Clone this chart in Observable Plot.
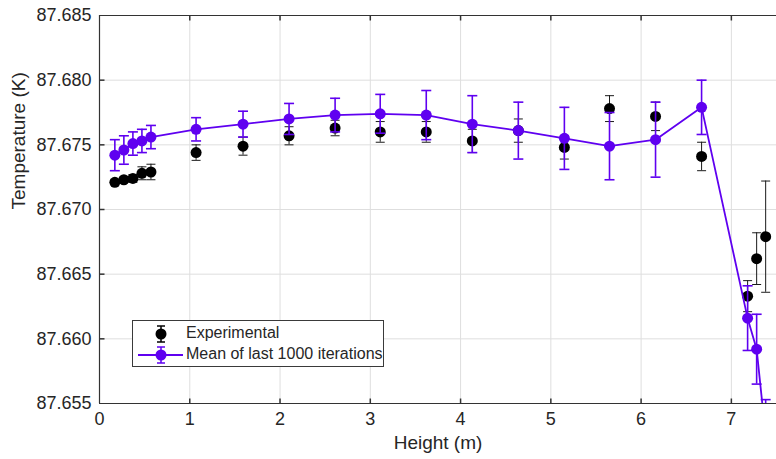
<!DOCTYPE html>
<html><head><meta charset="utf-8">
<script src="https://cdn.jsdelivr.net/npm/d3@7"></script>
<script src="https://cdn.jsdelivr.net/npm/@observablehq/plot@0.6"></script>
<style>
body{margin:0;background:#fff;}
#wrap{position:relative;width:776px;height:459px;font-family:"Liberation Sans",Arial,sans-serif;overflow:hidden;}
#legend{position:absolute;left:132px;top:320px;width:250px;height:45px;border:1px solid #3a3a3a;background:#fff;font-size:16px;color:#262626;}
#legend .row{position:absolute;left:0;height:20px;line-height:20px;}
#legend svg{position:absolute;left:0;top:0;}
#legend span{position:absolute;left:53px;white-space:nowrap;}
</style></head><body>
<div id="wrap"></div>
<script>
// ---- data ----
const heights = [0.17,0.27,0.37,0.47,0.57,1.07,1.59,2.10,2.61,3.11,3.62,4.13,4.64,5.15,5.65,6.16,6.67,7.18,7.28,7.38];
const expTemp = [87.6721,87.6723,87.6724,87.6728,87.6729,87.6744,87.6749,87.6757,87.6763,87.6760,87.6760,87.6753,87.6761,87.6748,87.6778,87.6772,87.6741,87.6633,87.6662,87.6679];
const expErr  = [0.0002,0.0002,0.0003,0.0005,0.0006,0.0006,0.0007,0.0007,0.0006,0.0008,0.0008,0.0009,0.0009,0.0009,0.0010,0.0011,0.0011,0.0012,0.0020,0.0043];
const simTemp = [87.6742,87.6746,87.6751,87.6753,87.6756,87.6762,87.6766,87.6770,87.6773,87.6774,87.6773,87.6766,87.6761,87.6755,87.6749,87.6754,87.6779,87.6616,87.6592,87.6525];
const simErr  = [0.0012,0.0011,0.0009,0.0009,0.0009,0.0009,0.0010,0.0012,0.0013,0.0015,0.0019,0.0022,0.0022,0.0024,0.0026,0.0029,0.0021,0.0025,0.0027,0.0028];
const xTicks = [0,1,2,3,4,5,6,7];
const yTicks = [87.655,87.660,87.665,87.670,87.675,87.680,87.685];
const seriesNames = ["Experimental","Mean of last 1000 iterations"];
const xLabel = "Height (m)";
const yLabel = "Temperature (K)";

const exp = heights.map((h,i)=>({x:h,y:expTemp[i],e:expErr[i]}));
const sim = heights.map((h,i)=>({x:h,y:simTemp[i],e:simErr[i]}));

const purple = "#5f00f0";
const axisCol = "#333333";
const gridCol = "#dedede";

const rad = s => Math.sqrt(s/Math.PI);
const capSym = {draw(c,s){const r=rad(s);c.moveTo(-r,0);c.lineTo(r,0);}};
const tickUp = {draw(c,s){const r=rad(s);c.moveTo(0,0);c.lineTo(0,-r);}};
const tickDown = {draw(c,s){const r=rad(s);c.moveTo(0,0);c.lineTo(0,r);}};
const tickRight = {draw(c,s){const r=rad(s);c.moveTo(0,0);c.lineTo(r,0);}};

const errMarks = (data, color, capR, sw) => [
  Plot.ruleX(data,{x:"x",y1:d=>d.y-d.e,y2:d=>d.y+d.e,stroke:color,strokeWidth:sw,clip:true}),
  Plot.dot(data,{x:"x",y:d=>d.y+d.e,symbol:capSym,r:capR,stroke:color,strokeWidth:sw,fill:"none",clip:true}),
  Plot.dot(data,{x:"x",y:d=>d.y-d.e,symbol:capSym,r:capR,stroke:color,strokeWidth:sw,fill:"none",clip:true})
];

const chart = Plot.plot({
  width:776, height:459,
  marginLeft:99, marginRight:0, marginTop:15, marginBottom:56,
  style:{fontFamily:"'Liberation Sans',Arial,sans-serif",fontSize:"18px",color:"#262626",background:"white"},
  x:{domain:[0,7.5]},
  y:{domain:[87.655,87.685]},
  marks:[
    Plot.gridX(xTicks,{stroke:gridCol,strokeOpacity:1}),
    Plot.gridY(yTicks,{stroke:gridCol,strokeOpacity:1}),
    Plot.axisX(xTicks,{tickSize:0,tickPadding:9,label:null,fontSize:18}),
    Plot.axisY(yTicks,{tickSize:0,tickPadding:8,tickFormat:d3.format(".3f"),label:null,fontSize:18}),
    Plot.ruleY([87.655,87.685],{stroke:axisCol,strokeWidth:1.2}),
    Plot.ruleX([0],{stroke:axisCol,strokeWidth:1.2}),
    Plot.dot(xTicks.slice(1),{x:d=>d,frameAnchor:"bottom",symbol:tickUp,r:5,stroke:axisCol,fill:"none"}),
    Plot.dot(xTicks.slice(1),{x:d=>d,frameAnchor:"top",symbol:tickDown,r:5,stroke:axisCol,fill:"none"}),
    Plot.dot(yTicks.slice(1,-1),{y:d=>d,frameAnchor:"left",symbol:tickRight,r:5,stroke:axisCol,fill:"none"}),
    Plot.text([yLabel],{text:d=>d,frameAnchor:"left",rotate:-90,dx:-81,fontSize:19,fill:"#262626"}),
    Plot.text([xLabel],{text:d=>d,frameAnchor:"bottom",dy:45,fontSize:19,fill:"#262626"}),
    ...errMarks(exp,"#1a1a1a",4.5,1),
    Plot.dot(exp,{x:"x",y:"y",r:5.5,fill:"#000",stroke:"none",clip:true}),
    Plot.line(sim,{x:"x",y:"y",stroke:purple,strokeWidth:1.8,clip:true}),
    ...errMarks(sim,purple,5,1.6),
    Plot.dot(sim,{x:"x",y:"y",r:5.5,fill:purple,stroke:"none",clip:true})
  ]
});

const wrap = document.getElementById("wrap");
wrap.appendChild(chart);

const legend = document.createElement("div");
legend.id = "legend";
const rowY = [13,34];
const rowHtml = (i) => {
  const cy = rowY[i];
  const col = i===0 ? "#000" : purple;
  const line = i===1 ? `<line x1="5" x2="50" y1="${cy}" y2="${cy}" stroke="${purple}" stroke-width="1.8"/>` : "";
  return line +
    `<line x1="28" x2="28" y1="${cy-8}" y2="${cy+8}" stroke="${col}" stroke-width="1.5"/>` +
    `<line x1="24" x2="32" y1="${cy-8}" y2="${cy-8}" stroke="${col}" stroke-width="1.5"/>` +
    `<line x1="24" x2="32" y1="${cy+8}" y2="${cy+8}" stroke="${col}" stroke-width="1.5"/>` +
    `<circle cx="28" cy="${cy}" r="5.5" fill="${col}"/>`;
};
legend.innerHTML = `<svg width="250" height="45">${rowHtml(0)}${rowHtml(1)}</svg>` +
  seriesNames.map((n,i)=>`<span style="top:${rowY[i]-10}px">${n}</span>`).join("");
wrap.appendChild(legend);
</script>
</body></html>
